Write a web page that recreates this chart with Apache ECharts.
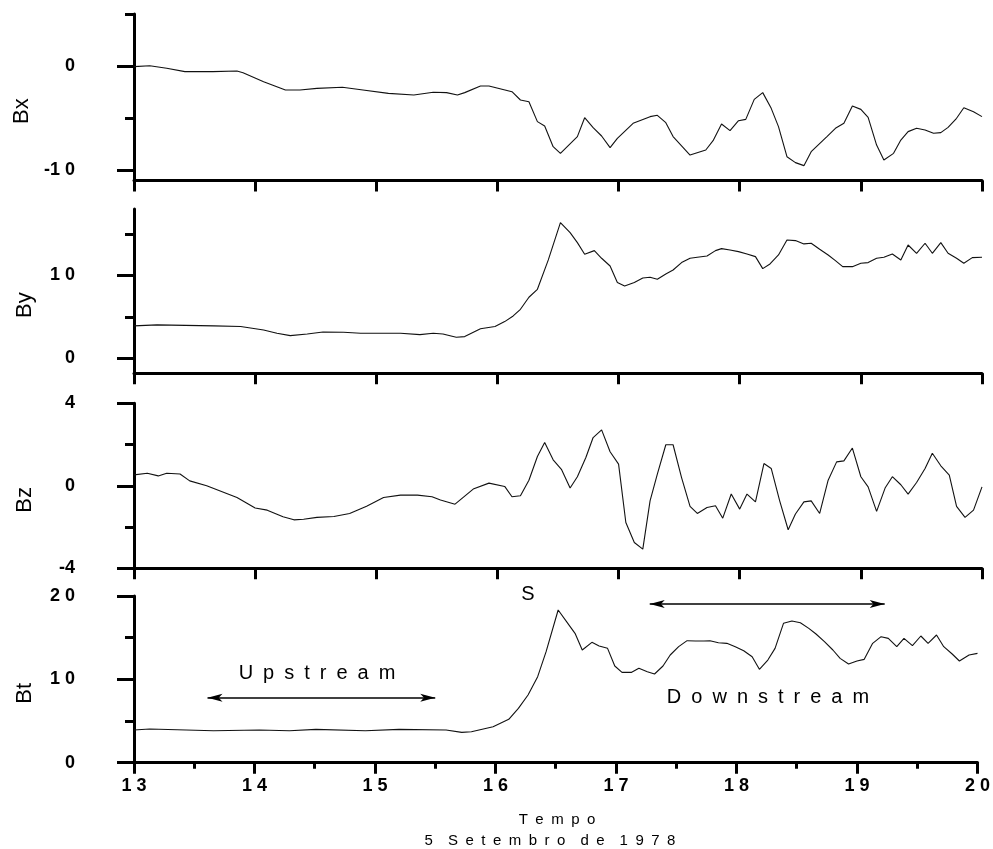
<!DOCTYPE html>
<html><head><meta charset="utf-8">
<script src="https://cdn.jsdelivr.net/npm/echarts@6/dist/echarts.min.js"></script>
<style>html,body{margin:0;padding:0;background:#fff}#c{width:993px;height:849px}</style>
</head><body><div id="c"></div>
<script>
// ---- data (time in hours, values in nT) ----
const bxTime = [13.00,13.13,13.27,13.42,13.65,13.85,13.90,14.07,14.25,14.37,14.51,14.72,14.89,15.10,15.31,15.47,15.58,15.67,15.73,15.86,15.93,16.12,16.19,16.26,16.33,16.39,16.46,16.52,16.66,16.72,16.79,16.86,16.93,16.99,17.12,17.26,17.32,17.39,17.45,17.59,17.72,17.78,17.85,17.92,17.99,18.05,18.12,18.19,18.26,18.32,18.39,18.46,18.53,18.59,18.72,18.79,18.86,18.93,19.00,19.06,19.13,19.19,19.27,19.33,19.39,19.46,19.53,19.60,19.66,19.72,19.79,19.85,19.93,20.00];
const bxValue = [-0.06,0.03,-0.22,-0.54,-0.54,-0.48,-0.64,-1.51,-2.31,-2.31,-2.15,-2.05,-2.31,-2.63,-2.79,-2.53,-2.56,-2.79,-2.56,-1.92,-1.92,-2.47,-3.27,-3.43,-5.35,-5.77,-7.76,-8.40,-6.79,-4.97,-5.93,-6.73,-7.85,-6.96,-5.51,-4.87,-4.74,-5.45,-6.79,-8.56,-8.08,-7.18,-5.58,-6.22,-5.26,-5.13,-3.21,-2.56,-4.07,-5.83,-8.72,-9.29,-9.58,-8.24,-6.79,-5.99,-5.51,-3.85,-4.17,-4.94,-7.60,-9.04,-8.40,-7.12,-6.31,-5.99,-6.15,-6.47,-6.41,-5.90,-5.03,-4.01,-4.39,-4.87];

const byTime = [13.00,13.19,13.66,13.88,14.07,14.18,14.29,14.43,14.56,14.73,14.87,15.20,15.36,15.47,15.55,15.66,15.73,15.86,15.98,16.06,16.13,16.19,16.26,16.33,16.42,16.52,16.60,16.66,16.72,16.80,16.86,16.93,16.99,17.05,17.13,17.20,17.26,17.32,17.39,17.45,17.52,17.59,17.65,17.73,17.80,17.85,17.92,17.99,18.06,18.13,18.19,18.25,18.32,18.39,18.46,18.53,18.59,18.66,18.73,18.79,18.85,18.93,19.00,19.06,19.13,19.19,19.26,19.33,19.39,19.46,19.53,19.59,19.66,19.72,19.79,19.85,19.92,20.00];
const byValue = [3.90,4.02,3.90,3.82,3.41,3.01,2.73,2.93,3.17,3.13,3.01,3.01,2.85,3.01,2.93,2.53,2.61,3.55,3.82,4.42,5.10,5.90,7.35,8.31,11.85,16.35,15.14,13.94,12.53,12.97,12.05,11.12,9.12,8.71,9.12,9.68,9.76,9.52,10.16,10.64,11.53,12.05,12.17,12.33,12.97,13.21,13.05,12.85,12.57,12.25,10.80,11.37,12.45,14.26,14.18,13.78,13.86,13.13,12.45,11.77,11.04,11.04,11.45,11.53,12.05,12.17,12.57,11.85,13.65,12.65,13.86,12.65,13.94,12.65,12.05,11.45,12.13,12.17];

const bzTime = [13.00,13.11,13.20,13.27,13.38,13.46,13.60,13.85,14.00,14.10,14.23,14.32,14.40,14.51,14.65,14.78,14.92,15.06,15.20,15.34,15.46,15.53,15.65,15.80,15.93,16.06,16.12,16.19,16.26,16.33,16.39,16.46,16.53,16.60,16.66,16.73,16.79,16.86,16.93,17.00,17.06,17.13,17.20,17.26,17.32,17.39,17.45,17.52,17.59,17.65,17.73,17.80,17.86,17.93,18.00,18.06,18.13,18.20,18.26,18.33,18.40,18.46,18.53,18.59,18.66,18.73,18.80,18.86,18.93,19.00,19.06,19.13,19.20,19.26,19.33,19.39,19.46,19.53,19.59,19.66,19.73,19.79,19.86,19.93,20.00];
const bzValue = [0.53,0.61,0.48,0.61,0.57,0.24,0.00,-0.57,-1.08,-1.18,-1.50,-1.65,-1.62,-1.53,-1.49,-1.34,-0.99,-0.57,-0.45,-0.45,-0.53,-0.69,-0.89,-0.16,0.13,-0.03,-0.53,-0.48,0.27,1.42,2.10,1.26,0.78,-0.11,0.44,1.37,2.34,2.71,1.65,1.05,-1.78,-2.75,-3.07,-0.73,0.57,1.99,1.99,0.40,-1.00,-1.34,-1.05,-0.97,-1.57,-0.40,-1.13,-0.40,-0.78,1.08,0.84,-0.73,-2.13,-1.37,-0.78,-0.73,-1.34,0.27,1.16,1.21,1.83,0.44,-0.05,-1.24,-0.11,0.44,0.05,-0.40,0.16,0.84,1.58,0.97,0.52,-1.00,-1.53,-1.18,-0.05];

const btTime = [13.00,13.13,13.66,14.04,14.29,14.51,14.92,15.20,15.59,15.72,15.80,15.98,16.11,16.19,16.27,16.35,16.42,16.52,16.60,16.66,16.72,16.80,16.86,16.93,16.99,17.05,17.13,17.19,17.26,17.32,17.39,17.45,17.52,17.59,17.66,17.73,17.78,17.85,17.92,17.99,18.06,18.13,18.19,18.26,18.32,18.39,18.46,18.53,18.60,18.66,18.73,18.80,18.86,18.93,19.00,19.06,19.13,19.20,19.26,19.33,19.39,19.46,19.53,19.59,19.66,19.72,19.79,19.85,19.93,20.00];
const btValue = [3.92,4.04,3.84,3.92,3.84,4.00,3.84,4.00,3.92,3.64,3.72,4.32,5.20,6.52,8.12,10.32,13.32,18.32,16.72,15.52,13.52,14.44,14.00,13.72,11.60,10.84,10.84,11.32,10.92,10.64,11.60,12.92,13.92,14.64,14.60,14.60,14.64,14.40,14.32,13.92,13.44,12.72,11.20,12.32,13.72,16.72,17.00,16.80,16.12,15.44,14.52,13.52,12.52,11.84,12.20,12.40,14.32,15.12,14.92,13.92,14.92,14.04,15.20,14.32,15.32,13.92,13.04,12.20,12.92,13.12];

const panelNames = ['Bx', 'By', 'Bz', 'Bt'];
const yMin = [-11, -1.8, -4, 0];
const yMax = [5, 18, 4, 20];
const yMajorTicks = [[-10, 0], [0, 10], [-4, 0, 4], [0, 10, 20]];
const yMinorTicks = [[-5, 5], [5, 15], [-2, 2], [5, 15]];
const xMin = 13, xMax = 20, xStep = 1;
const upstreamArrow = [[13.61, 7.8], [15.50, 7.8]];
const downstreamArrow = [[17.28, 19.05], [19.23, 19.05]];

// ---- layout ----
const FONT = 'Liberation Sans, Arial, sans-serif';
const gridTops = [14, 208.9, 403.3, 596];
const gridHeights = [166.4, 164.3, 165, 166.7];

const zip = (t, v) => t.map((x, i) => [x, v[i]]);
const seriesData = [zip(bxTime, bxValue), zip(byTime, byValue), zip(bzTime, bzValue), zip(btTime, btValue)];
const spaced = v => (v < 0 ? '-' + String(-v).split('').join(' ') : String(v).split('').join(' '));
const EN = '\u2002';
const spread = (s, sep) => s.split(' ').map(w => w.split('').join(sep)).join(sep + sep);

const grids = [], xAxes = [], yAxes = [], minorY = [], series = [];
for (let i = 0; i < 4; i++) {
  grids.push({ left: 134, right: 11, top: gridTops[i], height: gridHeights[i], containLabel: false });
  const last = i === 3;
  xAxes.push({
    type: 'value', gridIndex: i, min: xMin, max: xMax, interval: xStep,
    axisLine: { show: true, onZero: false, lineStyle: { color: '#000', width: 3 } },
    axisTick: { show: true, length: 11, lineStyle: { color: '#000', width: 3 } },
    minorTick: { show: last, splitNumber: 2, length: 6, lineStyle: { color: '#000', width: 3 } },
    axisLabel: { show: last, margin: 14, color: '#000', fontSize: 18, fontWeight: 'bold', fontFamily: FONT, formatter: spaced },
    splitLine: { show: false }
  });
  yAxes.push({
    type: 'value', gridIndex: i, position: 'left', min: yMin[i], max: yMax[i],
    name: panelNames[i], nameLocation: 'middle', nameRotate: 90, nameGap: 98,
    nameTextStyle: { color: '#000', fontSize: 22, fontFamily: FONT, padding: [0, 28, 0, 0] },
    axisLine: { show: true, onZero: false, lineStyle: { color: '#000', width: 3 } },
    axisTick: { show: true, length: 17, customValues: yMajorTicks[i], lineStyle: { color: '#000', width: 3 } },
    axisLabel: { show: true, customValues: yMajorTicks[i], margin: 59, color: '#000', fontSize: 18, fontWeight: 'bold', fontFamily: FONT, padding: [0, 0, 8, 0], formatter: spaced },
    splitLine: { show: false }
  });
  minorY.push({
    type: 'value', gridIndex: i, position: 'left', min: yMin[i], max: yMax[i],
    axisLine: { show: false },
    axisTick: { show: true, length: 9, customValues: yMinorTicks[i], lineStyle: { color: '#000', width: 3 } },
    axisLabel: { show: false },
    splitLine: { show: false }
  });
  const s = {
    type: 'line', xAxisIndex: i, yAxisIndex: i, data: seriesData[i],
    showSymbol: false, symbol: 'none', silent: true,
    lineStyle: { color: '#111', width: 1.1 }
  };
  if (last) {
    const end = c => ({ coord: c, symbol: 'arrow', symbolSize: [6, 15] });
    s.markLine = {
      silent: true, symbol: ['arrow', 'arrow'], symbolSize: 12,
      label: { show: false }, emphasis: { disabled: true },
      lineStyle: { color: '#000', width: 1.5, type: 'solid' },
      itemStyle: { color: '#000' },
      data: [
        [end(upstreamArrow[0]), end(upstreamArrow[1])],
        [end(downstreamArrow[0]), end(downstreamArrow[1])]
      ]
    };
  }
  series.push(s);
}

const textEl = (text, x, y, size) => ({
  type: 'text', x: x, y: y, silent: true,
  style: { text: text, fill: '#000', font: size + 'px ' + FONT, align: 'center', verticalAlign: 'middle' }
});

const chart = echarts.init(document.getElementById('c'), null, { renderer: 'canvas' });
chart.setOption({
  animation: false,
  backgroundColor: '#fff',
  grid: grids,
  xAxis: xAxes,
  yAxis: yAxes.concat(minorY),
  series: series,
  graphic: [
    textEl(spread('Upstream', EN), 317, 673, 20),
    textEl(spread('Downstream', EN), 768, 697, 20),
    textEl('S', 528, 594, 20),
    textEl(spread('Tempo', EN), 557, 820, 15),
    textEl(spread('5 Setembro de 1978', EN), 550, 841, 15)
  ]
});
</script></body></html>
